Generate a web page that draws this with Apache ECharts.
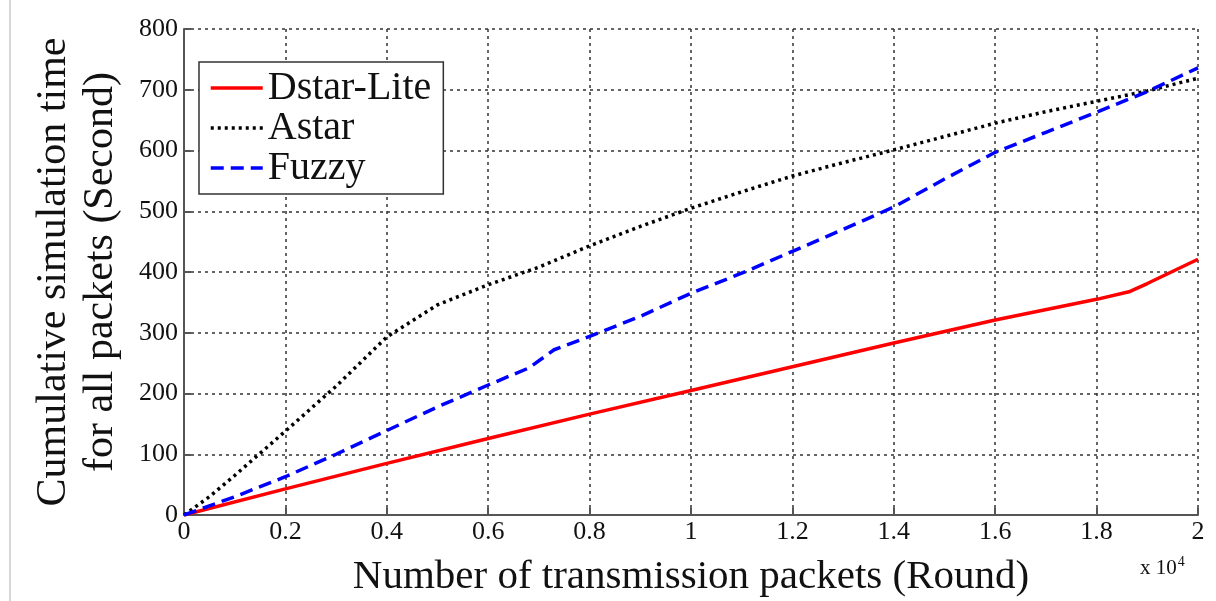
<!DOCTYPE html>
<html>
<head>
<meta charset="utf-8">
<script src="https://cdn.jsdelivr.net/npm/echarts@6/dist/echarts.min.js"></script>
<style>html,body{margin:0;padding:0;background:#fff;}#c{width:1216px;height:601px;}</style>
</head>
<body>
<div id="c"></div>
<script>
// x in units of 10^4 packets
const dstarX = [0, 0.2, 0.4, 0.6, 0.8, 1.0, 1.2, 1.4, 1.6, 1.8, 1.866, 1.9, 2.0];
const dstarY = [0, 43, 85, 126, 166, 205, 244, 283, 321, 355, 368, 381, 421];
const astarX = [0, 0.05, 0.1, 0.2, 0.3, 0.4, 0.5, 0.6, 0.7, 0.8, 0.9, 1.0, 1.1, 1.2, 1.3, 1.4, 1.5, 1.6, 1.7, 1.8, 1.9, 2.0];
const astarY = [0, 30, 65, 138, 212, 293, 346, 379, 408, 443, 475, 505, 532, 558, 580, 601, 623, 645, 664, 681, 698, 719];
const fuzzyX = [0, 0.1, 0.2, 0.3, 0.4, 0.5, 0.6, 0.68, 0.73, 0.8, 0.9, 1.0, 1.1, 1.2, 1.3, 1.4, 1.5, 1.6, 1.7, 1.8, 1.9, 2.0];
const fuzzyY = [0, 30, 63, 100, 139, 178, 214, 242, 272, 294, 327, 365, 398, 434, 470, 507, 553, 597, 630, 663, 697, 736];
const seriesNames = ['Dstar-Lite', 'Astar', 'Fuzzy'];
const xTitle = 'Number of transmission packets (Round)';
const yTitle = 'Cumulative simulation time\nfor all packets (Second)';

const zip = (xs, ys) => xs.map((x, i) => [x, ys[i]]);
const serif = 'Liberation Serif';
const chart = echarts.init(document.getElementById('c'));
chart.setOption({
  animation: false,
  backgroundColor: '#fff',
  grid: { left: 184, right: 18, top: 29, bottom: 86, containLabel: false, outerBoundsMode: 'none' },
  xAxis: {
    type: 'value', min: 0, max: 2, interval: 0.2,
    axisLine: { show: true, onZero: false, lineStyle: { color: '#555', width: 2 } },
    axisTick: { show: true, inside: true, length: 7, lineStyle: { color: '#555', width: 2 } },
    axisLabel: { color: '#111', fontFamily: serif, fontSize: 26, margin: 4,
      formatter: v => (Math.round(v * 10) / 10).toString() },
    splitLine: { show: true, lineStyle: { color: '#333', type: [3, 4], width: 1.5 } },
    name: xTitle, nameLocation: 'middle', nameGap: 42,
    nameTextStyle: { fontFamily: serif, fontSize: 41, color: '#111' }
  },
  yAxis: {
    type: 'value', min: 0, max: 800, interval: 100,
    axisLine: { show: true, onZero: false, lineStyle: { color: '#555', width: 2 } },
    axisTick: { show: true, inside: true, length: 7, lineStyle: { color: '#555', width: 2 } },
    axisLabel: { color: '#111', fontFamily: serif, fontSize: 26, margin: 6 },
    splitLine: { show: true, lineStyle: { color: '#333', type: [3, 4], width: 1.5 } },
    name: yTitle, nameLocation: 'middle', nameGap: 60, nameRotate: 90,
    nameTextStyle: { fontFamily: serif, fontSize: 42, color: '#111', lineHeight: 47, align: 'center' }
  },
  legend: {
    orient: 'vertical', left: 199, top: 62,
    data: seriesNames,
    itemWidth: 52, itemHeight: 20, itemGap: 0,
    padding: [6, 12, 6, 10],
    backgroundColor: '#fff', borderColor: '#333', borderWidth: 1.5,
    textStyle: { fontFamily: serif, fontSize: 40, color: '#111', lineHeight: 38 },
    itemStyle: { opacity: 0 },
    lineStyle: { width: 3.5 }
  },
  graphic: [
    { type: 'line', shape: { x1: 10, y1: 0, x2: 10, y2: 601 }, style: { stroke: '#c8c8c8', lineWidth: 1.5 } },
    { type: 'text', left: 1140, top: 555,
      style: { text: '{a|x 10}{b|4}', rich: {
        a: { fontFamily: serif, fontSize: 21, fill: '#111', verticalAlign: 'bottom' },
        b: { fontFamily: serif, fontSize: 14, fill: '#111', verticalAlign: 'top', padding: [0, 0, 10, 1] } } } }
  ],
  series: [
    { name: seriesNames[0], type: 'line', data: zip(dstarX, dstarY), symbol: 'none',
      lineStyle: { color: '#ff0000', width: 3.5, type: 'solid' }, itemStyle: { color: '#ff0000' }, z: 3 },
    { name: seriesNames[1], type: 'line', data: zip(astarX, astarY), symbol: 'none',
      lineStyle: { color: '#000', width: 3.5, type: [3, 4] }, itemStyle: { color: '#000' }, z: 4 },
    { name: seriesNames[2], type: 'line', data: zip(fuzzyX, fuzzyY), symbol: 'none',
      lineStyle: { color: '#0000ff', width: 3.5, type: [13, 7] }, itemStyle: { color: '#0000ff' }, z: 5 }
  ]
});
</script>
</body>
</html>
